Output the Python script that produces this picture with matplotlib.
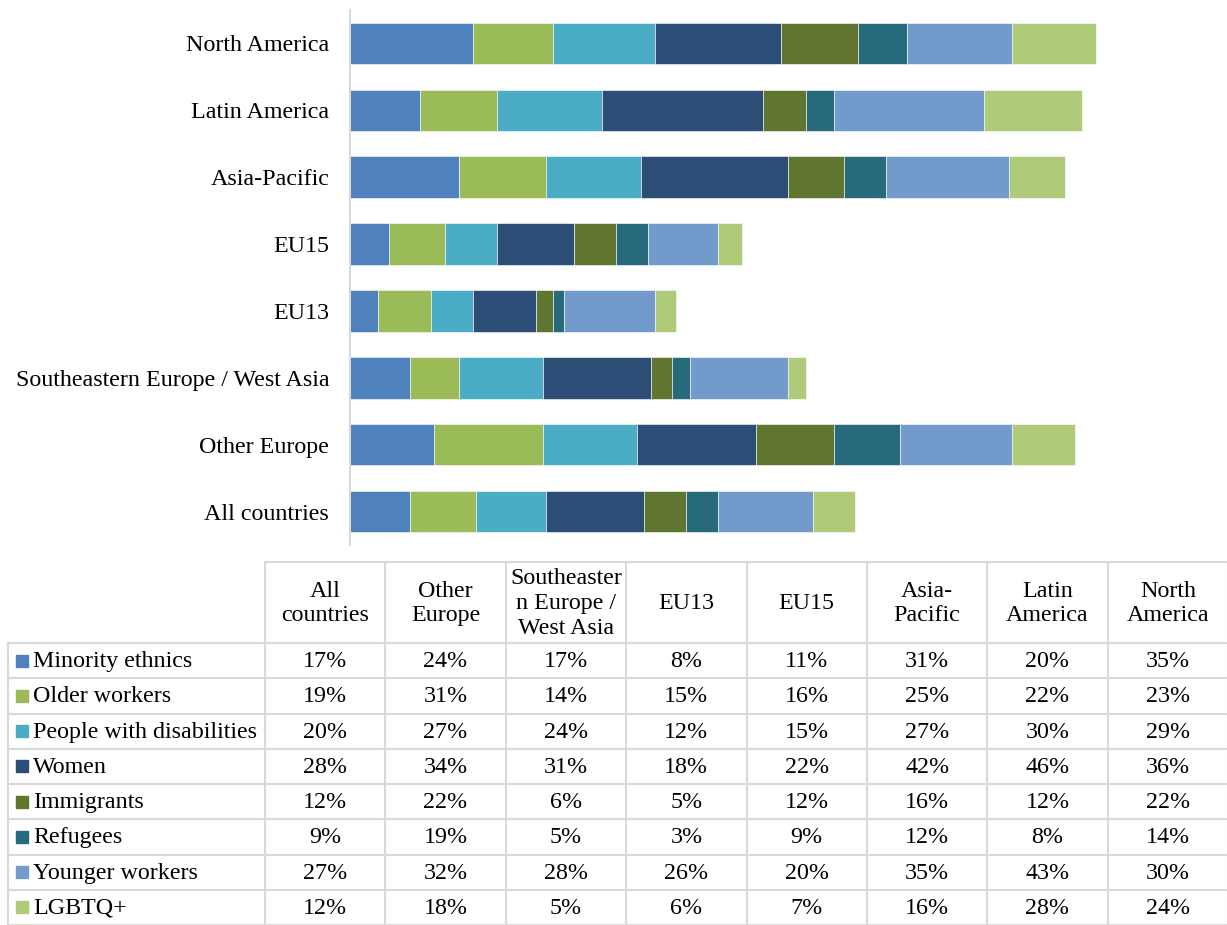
import matplotlib
matplotlib.use("Agg")
import matplotlib.pyplot as plt
from matplotlib.patches import Rectangle

plt.rcParams['font.family'] = ['Liberation Serif', 'DejaVu Serif']

regions = ["All countries", "Other Europe", "Southeastern Europe / West Asia",
           "EU13", "EU15", "Asia-Pacific", "Latin America", "North America"]
header_labels = ["All\ncountries", "Other\nEurope", "Southeaster\nn Europe /\nWest Asia",
                 "EU13", "EU15", "Asia-\nPacific", "Latin\nAmerica", "North\nAmerica"]
groups = ["Minority ethnics", "Older workers", "People with disabilities", "Women",
          "Immigrants", "Refugees", "Younger workers", "LGBTQ+"]

minority_ethnics = [17, 24, 17, 8, 11, 31, 20, 35]
older_workers = [19, 31, 14, 15, 16, 25, 22, 23]
people_with_disabilities = [20, 27, 24, 12, 15, 27, 30, 29]
women = [28, 34, 31, 18, 22, 42, 46, 36]
immigrants = [12, 22, 6, 5, 12, 16, 12, 22]
refugees = [9, 19, 5, 3, 9, 12, 8, 14]
younger_workers = [27, 32, 28, 26, 20, 35, 43, 30]
lgbtq = [12, 18, 5, 6, 7, 16, 28, 24]

series = [minority_ethnics, older_workers, people_with_disabilities, women,
          immigrants, refugees, younger_workers, lgbtq]
colors = ["#4F81BD", "#9BBB59", "#4BACC6", "#2C4D75",
          "#5F7530", "#276A7C", "#729ACA", "#AFCB7A"]

FS = 17.3
W, H = 1227, 925
fig = plt.figure(figsize=(W / 100, H / 100), dpi=100)

# Bar chart axes
ax = fig.add_axes([350 / W, 1 - 545 / H, (1226 - 350) / W, (545 - 10) / H])
ypos = list(range(len(regions)))
left = [0] * len(regions)
for vals, col, name in zip(series, colors, groups):
    ax.barh(ypos, vals, left=left, height=0.62, color=col, edgecolor="white",
            linewidth=0.4, label=name)
    left = [l + v for l, v in zip(left, vals)]
ax.set_xlim(0, 250)
ax.set_ylim(-0.5, 7.5)
ax.set_yticks(ypos)
ax.set_yticklabels(regions, fontsize=FS)
ax.tick_params(axis="y", length=0, pad=15)
ax.set_xticks([])
for s in ["top", "right", "bottom"]:
    ax.spines[s].set_visible(False)
ax.spines["left"].set_color("#D9D9D9")
ax.spines["left"].set_linewidth(1.5)

# Table axes in pixel coordinates
tax = fig.add_axes([0, 0, 1, (925 - 555) / H])
tax.set_xlim(0, W)
tax.set_ylim(925, 555)
tax.axis("off")

grid_c = "#D9D9D9"
lw = 1.5
col_left = 265
col_w = (1228 - 265) / 8
header_top, header_bot = 562, 643
row_h = (925 - header_bot) / 8

# horizontal lines
tax.plot([col_left, W], [header_top, header_top], color=grid_c, lw=lw, clip_on=False)
for i in range(9):
    y = header_bot + i * row_h
    tax.plot([8, W], [y, y], color=grid_c, lw=lw, clip_on=False)
# vertical lines
tax.plot([8, 8], [header_bot, 925], color=grid_c, lw=lw, clip_on=False)
for j in range(9):
    x = col_left + j * col_w
    tax.plot([x, x], [header_top, 925], color=grid_c, lw=lw, clip_on=False)

for j, lab in enumerate(header_labels):
    x = col_left + (j + 0.5) * col_w
    tax.text(x, (header_top + header_bot) / 2 + 1, lab, ha="center", va="center",
             fontsize=FS, linespacing=1.22)

for i, (name, vals, col) in enumerate(zip(groups, series, colors)):
    yc = header_bot + (i + 0.5) * row_h
    tax.add_patch(Rectangle((16, yc - 6), 12, 12, color=col))
    tax.text(33, yc + 1, name, ha="left", va="center", fontsize=FS)
    for j, v in enumerate(vals):
        x = col_left + (j + 0.5) * col_w
        tax.text(x, yc + 1, f"{v}%", ha="center", va="center", fontsize=FS)

fig.savefig("out.png", dpi=100)
